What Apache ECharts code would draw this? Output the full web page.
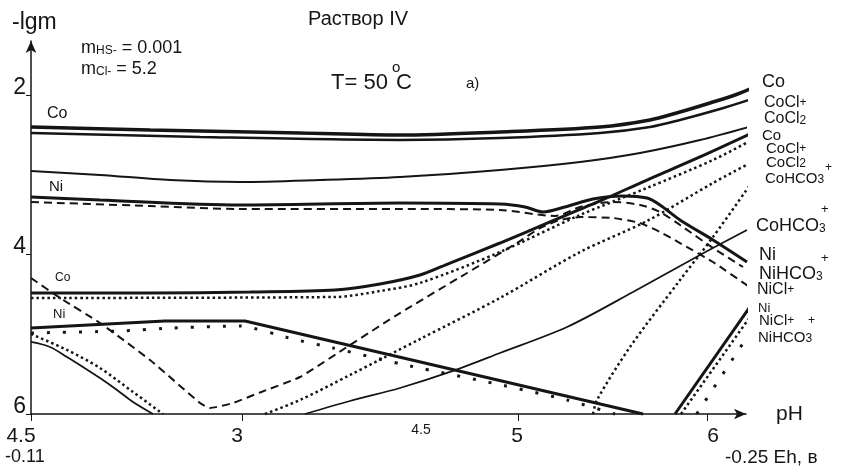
<!DOCTYPE html>
<html>
<head>
<meta charset="utf-8">
<title>Раствор IV</title>
<script src="https://cdn.jsdelivr.net/npm/echarts@6/dist/echarts.min.js"></script>
<style>
  html, body { margin: 0; padding: 0; background: #fff; }
  #chart { width: 846px; height: 476px; }
</style>
</head>
<body>
<div id="chart"></div>
<script>
// x = position along the combined pH / Eh scale (arbitrary units, the scale is not linear in pH)
// y = -lg m
var xLabelPos = [-2.5, 51.5, 97.5, 121.5, 170.5];
var xLabelText = ['4.5', '3', '4.5', '5', '6'];
var xTickPos = [0, 52.75, 121.75, 169];
var yTicks = [2, 4, 6];
var ehText = ['-0.11', '-0.25 Eh, в'];

// upper group
var coTop = [[0,2.401],[29.75,2.439],[67.25,2.476],[92.25,2.502],[117.25,2.464],[142.25,2.401],[154.75,2.313],[162.25,2.213],[169.75,2.100],[176,2.0],[181.5,1.887]];
var coCl = [[0,2.476],[42.25,2.527],[92.25,2.564],[117.25,2.539],[142.25,2.476],[154.75,2.401],[162.25,2.313],[172.25,2.176],[180.25,2.050]];
var coCl2 = [[0,2.953],[17.25,3.003],[34.75,3.066],[52.25,3.091],[72.25,3.066],[92.25,3.028],[117.25,2.940],[137.25,2.840],[152.25,2.727],[167.25,2.564],[180.25,2.389]];
var ni = [[0,3.279],[17.25,3.317],[52.25,3.379],[92.25,3.354],[117.25,3.367],[123.5,3.404],[128,3.467],[133.5,3.404],[140.5,3.304],[148,3.266],[154,3.292],[157.25,3.379],[162.25,3.567],[170.5,3.818],[179,4.094]];
var niHco3 = [[0,3.342],[29.75,3.392],[52.25,3.429],[92.25,3.429],[117.25,3.442],[131,3.517],[137.25,3.404],[145.5,3.342],[152.25,3.379],[157.25,3.467],[162.25,3.630],[170.5,3.918],[178,4.157]];
var niCl = [[0,4.295],[7.25,4.545],[17.25,4.859],[29.75,5.323],[42.25,5.862],[44.75,5.925],[50.5,5.862],[57.25,5.730],[67.25,5.536],[79.75,5.135],[92.25,4.734],[109,4.232],[121.5,3.856],[127.25,3.668],[132.25,3.567],[137.25,3.530],[145.5,3.542],[152.25,3.605],[157.25,3.718],[162.25,3.856],[170.5,4.094],[179.25,4.395]];

// lower group
var coLow = [[0,4.483],[29.75,4.483],[54.75,4.470],[76,4.445],[87.25,4.370],[97.25,4.257],[104.75,4.107],[117.25,3.856],[129.75,3.592],[142.25,3.329],[154,3.066],[167.25,2.777],[179.75,2.489]];
var coClLow = [[0,4.545],[76,4.533],[87.25,4.458],[97.25,4.357],[117.25,3.969],[137.25,3.505],[154,3.166],[170.5,2.815],[179.25,2.589]];
var coCl2Low = [[58.5,6.0],[67.25,5.824],[79.75,5.511],[97.25,5.060],[117.25,4.545],[137.25,3.969],[154,3.580],[170.5,3.103],[180.25,2.840]];
var coHco3Low = [[140.5,6.0],[141.5,5.824],[149.75,5.160],[162.25,4.320],[170.5,3.781],[181.5,3.003]];
var coHco3 = [[68.5,6.0],[79.75,5.837],[92.25,5.674],[104.75,5.473],[117.25,5.235],[134,4.909],[150.5,4.470],[167.25,4.006],[179,3.693]];
var niLow = [[0,4.922],[33.5,4.834],[53.5,4.834],[153,6.0]];
var niLowDot = [[0,4.984],[22.25,4.959],[35.5,4.922],[52.25,4.897],[65.5,5.060],[75.5,5.172],[94.75,5.398],[116.5,5.624],[134,5.824],[146,6.0]];
var leftDrop = [[0,5.097],[4.75,5.160],[9,5.285],[13,5.411],[17.25,5.549],[21.5,5.699],[25.5,5.850],[30.5,6.0]];
var leftDropDot = [[0,4.997],[9,5.197],[17.25,5.423],[25.5,5.724],[33,6.0]];
var niSmall = [[161,6.0],[180.25,4.621]];
var niClSmall = [[162.5,6.0],[179.75,4.784]];
var niHco3Small = [[166.4,6.0],[180.5,4.922]];

var INK = '#151515';
var FONT = 'Liberation Sans, Arial, sans-serif';
var DASH = [8, 5];
var DOT = [2.5, 3];
var SPARSE = [3, 13];

function line(data, width, type, smooth) {
    return {
        type: 'line',
        data: data,
        symbol: 'none',
        clip: false,
        smooth: smooth === undefined ? 0.3 : smooth,
        silent: true,
        lineStyle: { color: INK, width: width, type: type || 'solid', cap: 'butt' }
    };
}

var chart = echarts.init(document.getElementById('chart'));

chart.setOption({
    animation: false,
    backgroundColor: '#fff',
    grid: { left: 31, right: 100, top: 41, bottom: 62, outerBoundsMode: 'none' },
    xAxis: {
        type: 'value',
        min: 0,
        max: 178.75,
        axisLine: { onZero: false, symbol: ['none', 'arrow'], symbolSize: [8, 12], lineStyle: { color: INK, width: 1.5 } },
        axisTick: { customValues: xTickPos, length: 7, lineStyle: { color: INK, width: 1 } },
        axisLabel: { show: false },
        splitLine: { show: false }
    },
    yAxis: {
        type: 'value',
        inverse: true,
        min: 1.323,
        max: 6,
        axisLine: { onZero: false, symbol: ['none', 'arrow'], symbolSize: [8, 12], lineStyle: { color: INK, width: 1.5 } },
        axisTick: { customValues: yTicks, length: 5, lineStyle: { color: INK, width: 1 } },
        axisLabel: { show: false },
        splitLine: { show: false }
    },
    series: [
        line(coTop, 3.5),
        line(coCl, 2.5),
        line(coCl2, 2),
        line(ni, 3),
        line(niHco3, 2, DASH),
        line(niCl, 2, DASH, 0.15),
        line(coLow, 3),
        line(coClLow, 2.5, DOT),
        line(coCl2Low, 2.5, DOT),
        line(coHco3Low, 2.5, DOT),
        line(coHco3, 1.8),
        line(niLow, 3, 'solid', false),
        line(niLowDot, 3, SPARSE, 0.2),
        line(leftDrop, 1.8),
        line(leftDropDot, 2.5, DOT),
        line(niSmall, 3, 'solid', false),
        line(niClSmall, 2.5, DOT, false),
        line(niHco3Small, 3, SPARSE, false)
    ]
});

var rich = {
    s: { fontSize: 12, fontFamily: FONT, fill: INK, verticalAlign: 'bottom' },
    p: { fontSize: 12, fontFamily: FONT, fill: INK, verticalAlign: 'middle' }
};
function txt(x, y, text, size, align, vAlign) {
    return {
        type: 'text', x: x, y: y, silent: true,
        style: {
            text: text, fill: INK, fontSize: size, fontFamily: FONT,
            align: align || 'left', verticalAlign: vAlign || 'top', rich: rich
        }
    };
}

var g = [
    txt(12, 11, '-lgm', 23),
    txt(81, 39, 'm{s|HS-} = 0.001', 18),
    txt(81, 60, 'm{s|Cl-} = 5.2', 18),
    txt(308, 9, 'Раствор IV', 20),
    txt(331, 72, 'T= 50', 22),
    txt(392, 60, 'o', 15),
    txt(396, 72, 'C', 22),
    txt(466, 76, 'a)', 15),
    // left labels
    txt(47, 106, 'Co', 16),
    txt(49, 179, 'Ni', 15),
    txt(55, 272, 'Co', 12),
    txt(53, 308, 'Ni', 13),
    // right labels
    txt(762, 73, 'Co', 18),
    txt(764, 95, 'CoCl{p|+}', 16),
    txt(764, 111, 'CoCl{s|2}', 16),
    txt(762, 128, 'Co', 15),
    txt(766, 141, 'CoCl{p|+}', 15),
    txt(766, 155, 'CoCl{s|2}', 15),
    txt(765, 171, 'CoHCO{s|3}', 15),
    txt(825, 162, '+', 12),
    txt(756, 217, 'CoHCO{s|3}', 18),
    txt(821, 203, '+', 13),
    txt(759, 246, 'Ni', 18),
    txt(759, 265, 'NiHCO{s|3}', 18),
    txt(821, 252, '+', 13),
    txt(757, 282, 'NiCl{p|+}', 16),
    txt(758, 302, 'Ni', 13),
    txt(759, 313, 'NiCl{p|+}', 15),
    txt(808, 315, '+', 12),
    txt(758, 330, 'NiHCO{s|3}', 15)
];

for (var i = 0; i < xLabelPos.length; i++) {
    var px = chart.convertToPixel({ xAxisIndex: 0 }, xLabelPos[i]);
    var small = i === 2;
    g.push(txt(px, small ? 423 : 426, xLabelText[i], small ? 14 : 21, 'center'));
}
for (var j = 0; j < yTicks.length; j++) {
    var py = chart.convertToPixel({ yAxisIndex: 0 }, yTicks[j]);
    g.push(txt(26, py + 4, String(yTicks[j]), 23, 'right', 'bottom'));
}
g.push(txt(5, 448, ehText[0], 18));
g.push(txt(725, 448, ehText[1], 19));
g.push(txt(776, 404, 'pH', 21));

chart.setOption({ graphic: g });
</script>
</body>
</html>
